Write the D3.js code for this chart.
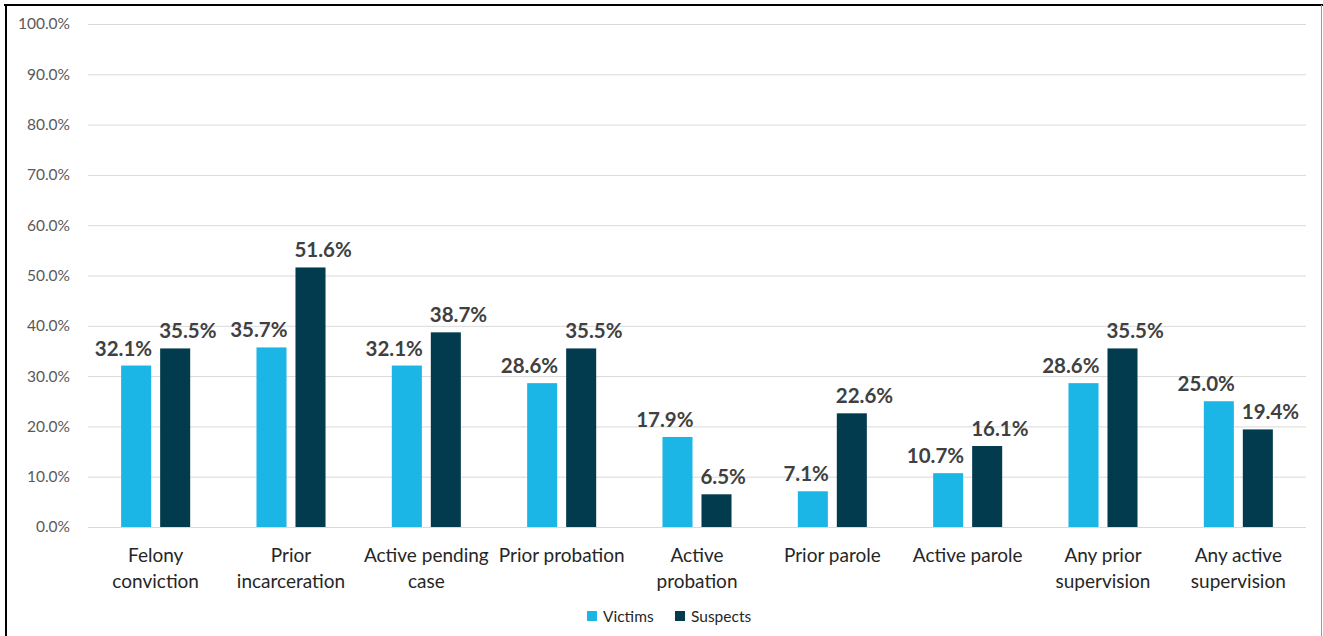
<!DOCTYPE html>
<html>
<head>
<meta charset="utf-8">
<script src="https://cdn.jsdelivr.net/npm/d3@7"></script>
<style>
  body { margin: 0; background: #fff; }
  svg { display: block; }
</style>
</head>
<body>
<svg width="1323" height="636"></svg>
<script>
const categories = [
  ["Felony", "conviction"],
  ["Prior", "incarceration"],
  ["Active pending", "case"],
  ["Prior probation"],
  ["Active", "probation"],
  ["Prior parole"],
  ["Active parole"],
  ["Any prior", "supervision"],
  ["Any active", "supervision"],
];
const seriesNames = ["Victims", "Suspects"];
const victims = [32.1, 35.7, 32.1, 28.6, 17.9, 7.1, 10.7, 28.6, 25.0];
const suspects = [35.5, 51.6, 38.7, 35.5, 6.5, 22.6, 16.1, 35.5, 19.4];
const yTicks = [0, 10, 20, 30, 40, 50, 60, 70, 80, 90, 100];
const colors = ["#1BB5E6", "#023B4D"];

const svg = d3.select("svg");
const width = +svg.attr("width");
const height = +svg.attr("height");
const font = "Lato, 'Liberation Sans', sans-serif";

const margin = { top: 24, right: 17, bottom: 109, left: 88 };
const innerWidth = width - margin.left - margin.right;
const innerHeight = height - margin.top - margin.bottom;

const data = categories.map((c, i) => ({
  key: c.join(" "),
  lines: c,
  values: [victims[i], suspects[i]],
}));

// scales
const x0 = d3.scaleBand()
  .domain(data.map(d => d.key))
  .range([0, innerWidth])
  .padding(0);
const x1 = d3.scaleBand()
  .domain([0, 1])
  .range([0, x0.bandwidth()])
  .paddingInner(0.23)
  .paddingOuter(0.85);
const yScale = d3.scaleLinear().domain([0, 100]).range([innerHeight, 0]);

const g = svg.append("g")
  .attr("transform", `translate(${margin.left},${margin.top})`);

// grid + y axis
const yAxis = d3.axisLeft(yScale)
  .tickValues(yTicks)
  .tickSize(-innerWidth)
  .tickPadding(18)
  .tickFormat(d => d.toFixed(1) + "%");
const yAxisG = g.append("g").call(yAxis);
yAxisG.select(".domain").remove();
yAxisG.selectAll(".tick line").attr("stroke", "#d9d9d9").attr("stroke-width", 1);
yAxisG.selectAll(".tick text")
  .attr("fill", "#595959")
  .style("font-family", font)
  .style("font-size", "15.5px");

// x axis labels
const xAxisG = g.append("g").attr("transform", `translate(0,${innerHeight})`);
const catG = xAxisG.selectAll("g.cat")
  .data(data)
  .enter().append("g")
  .attr("class", "cat")
  .attr("transform", d => `translate(${x0(d.key) + x0.bandwidth() / 2},0)`);
catG.append("text")
  .attr("text-anchor", "middle")
  .attr("fill", "#262626")
  .style("font-family", font)
  .style("font-size", "19px")
  .selectAll("tspan")
  .data(d => d.lines)
  .enter().append("tspan")
  .attr("x", 0)
  .attr("y", (d, i) => 35 + i * 26)
  .text(d => d);

// bars
const groups = g.selectAll("g.group")
  .data(data)
  .enter().append("g")
  .attr("class", "group")
  .attr("transform", d => `translate(${x0(d.key)},0)`);

groups.selectAll("rect")
  .data(d => d.values.map((v, i) => ({ v, i })))
  .enter().append("rect")
  .attr("x", d => x1(d.i))
  .attr("width", x1.bandwidth())
  .attr("y", d => yScale(d.v))
  .attr("height", d => innerHeight - yScale(d.v))
  .attr("fill", d => colors[d.i]);

// value labels
groups.selectAll("text.val")
  .data(d => d.values.map((v, i) => ({ v, i })))
  .enter().append("text")
  .attr("class", "val")
  .attr("x", d => d.i === 0 ? x1(d.i) + x1.bandwidth() + 1 : x1(d.i) - 1)
  .attr("y", d => yScale(d.v) - 10)
  .attr("text-anchor", d => d.i === 0 ? "end" : "start")
  .attr("fill", "#404040")
  .style("font-family", font)
  .style("font-weight", "bold")
  .style("font-size", "20.5px")
  .text(d => d.v.toFixed(1) + "%");

// legend
const legend = svg.append("g").attr("transform", "translate(587,616)");
const legendX = [0, 88];
seriesNames.forEach((name, i) => {
  const lg = legend.append("g").attr("transform", `translate(${legendX[i]},0)`);
  lg.append("rect")
    .attr("x", 0).attr("y", -5)
    .attr("width", 10).attr("height", 10)
    .attr("fill", colors[i]);
  lg.append("text")
    .attr("x", 16).attr("y", 5.5)
    .attr("fill", "#262626")
    .style("font-family", font)
    .style("font-size", "15.5px")
    .text(name);
});

// frame
svg.append("line").attr("x1", 4).attr("x2", width).attr("y1", 5).attr("y2", 5)
  .attr("stroke", "#000").attr("stroke-width", 2);
svg.append("line").attr("x1", 6).attr("x2", 6).attr("y1", 4).attr("y2", height)
  .attr("stroke", "#000").attr("stroke-width", 2);
svg.append("line").attr("x1", width - 1.5).attr("x2", width - 1.5).attr("y1", 5).attr("y2", height)
  .attr("stroke", "#999").attr("stroke-width", 1);
</script>
</body>
</html>
